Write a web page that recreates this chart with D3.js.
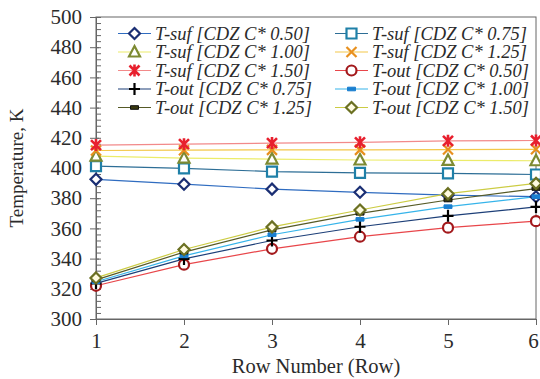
<!DOCTYPE html>
<html>
<head>
<meta charset="utf-8">
<script src="https://cdn.jsdelivr.net/npm/d3@7"></script>
<style>
  body { margin: 0; background: #fff; }
  svg { display: block; }
  text { font-family: "Liberation Serif", "Times New Roman", serif; fill: #2b2b2b; }
</style>
</head>
<body>
<div id="chartPlaceholder"></div>
<script>
const rows = [1, 2, 3, 4, 5, 6];
const yTicks = [300, 320, 340, 360, 380, 400, 420, 440, 460, 480, 500];

const tSuf050 = [392.5, 389.3, 386.0, 383.9, 382.0, 381.0];
const tSuf075 = [401.3, 399.8, 397.6, 396.8, 396.4, 395.7];
const tSuf100 = [407.8, 406.6, 405.9, 405.3, 405.0, 404.8];
const tSuf125 = [411.6, 411.8, 412.0, 412.0, 412.2, 412.4];
const tSuf150 = [415.2, 415.8, 416.5, 417.0, 418.0, 418.2];
const tOut050 = [322.0, 336.0, 346.5, 354.5, 360.5, 364.8];
const tOut075 = [323.6, 339.8, 352.0, 361.1, 368.3, 374.2];
const tOut100 = [324.7, 341.8, 355.8, 366.0, 374.4, 381.0];
const tOut125 = [325.9, 344.3, 359.0, 370.0, 378.8, 386.4];
const tOut150 = [327.2, 346.0, 361.0, 372.2, 383.0, 389.8];

const series = [
  { name: "T-suf [CDZ C* 0.50]", values: tSuf050, line: "#2f6cc0", marker: "diamond", stroke: "#1b2f74", fill: "#fff" },
  { name: "T-suf [CDZ C* 0.75]", values: tSuf075, line: "#2d6e96", marker: "square", stroke: "#1f80a8", fill: "#fff" },
  { name: "T-suf [CDZ C* 1.00]", values: tSuf100, line: "#ecec6a", marker: "triangle", stroke: "#7d8a32", fill: "#fff" },
  { name: "T-suf [CDZ C* 1.25]", values: tSuf125, line: "#f3c84a", marker: "x", stroke: "#e8901e", fill: "none" },
  { name: "T-suf [CDZ C* 1.50]", values: tSuf150, line: "#f28a8a", marker: "star", stroke: "#e8202e", fill: "none" },
  { name: "T-out [CDZ C* 0.50]", values: tOut050, line: "#e8464a", marker: "circle", stroke: "#a3191c", fill: "#fff" },
  { name: "T-out [CDZ C* 0.75]", values: tOut075, line: "#1d3f78", marker: "plus", stroke: "#000", fill: "none" },
  { name: "T-out [CDZ C* 1.00]", values: tOut100, line: "#36b4ea", marker: "dash", stroke: "#1a7fd0", fill: "#1a7fd0" },
  { name: "T-out [CDZ C* 1.25]", values: tOut125, line: "#565a26", marker: "dash", stroke: "#111", fill: "#3a3a10" },
  { name: "T-out [CDZ C* 1.50]", values: tOut150, line: "#cccc44", marker: "diamond", stroke: "#6b7022", fill: "#fffbe0" },
];

const margin = { top: 17, right: 4, bottom: 60, left: 96 },
  width = 540 - margin.left - margin.right,
  height = 379 - margin.top - margin.bottom;

const svg = d3
  .select("#chartPlaceholder")
  .append("svg")
  .attr("width", 540)
  .attr("height", 379);

const g = svg.append("g").attr("transform", `translate(${margin.left}, ${margin.top})`);

const x = d3.scaleLinear().domain([1, 6]).range([0, width]);
const y = d3.scaleLinear().domain([300, 500]).range([height, 0]);

// frame
g.append("rect")
  .attr("width", width)
  .attr("height", height)
  .attr("fill", "none")
  .attr("stroke", "#666")
  .attr("stroke-width", 1);

// minor y ticks (inside)
g.append("g")
  .call(d3.axisRight(y).tickValues(d3.range(300, 501, 4)).tickSize(5).tickFormat(""))
  .call((a) => a.select(".domain").remove())
  .selectAll("line")
  .attr("stroke", "#666");

// major y ticks + labels
const yAxis = g
  .append("g")
  .call(d3.axisLeft(y).tickValues(yTicks).tickSize(6).tickPadding(8));
yAxis.select(".domain").attr("stroke", "#666");
yAxis.selectAll("line").attr("stroke", "#666").attr("x2", -6).attr("x1", 3);
yAxis.selectAll("text").style("font-size", "21px").attr("fill", "#2b2b2b");

// x axis
const xAxis = g
  .append("g")
  .attr("transform", `translate(0, ${height})`)
  .call(d3.axisBottom(x).tickValues(rows).tickFormat(d3.format("d")).tickSize(6).tickPadding(8));
xAxis.select(".domain").attr("stroke", "#666");
xAxis.selectAll("line").attr("stroke", "#666");
xAxis.selectAll("text").style("font-size", "21px").attr("fill", "#2b2b2b");
// last label sits at the very edge; nudge it in so it stays whole
xAxis.selectAll("text").filter((d) => d === 6).attr("dx", -3);

// axis titles
svg
  .append("text")
  .attr("x", margin.left + width / 2)
  .attr("y", 373)
  .attr("text-anchor", "middle")
  .style("font-size", "20.5px")
  .text("Row Number (Row)");

svg
  .append("text")
  .attr("transform", `translate(23, ${margin.top + height / 2}) rotate(-90)`)
  .attr("text-anchor", "middle")
  .style("font-size", "19px")
  .text("Temperature, K");

function markerPath(type) {
  const p = d3.path();
  if (type === "diamond") {
    p.moveTo(0, -5.5); p.lineTo(5.5, 0); p.lineTo(0, 5.5); p.lineTo(-5.5, 0); p.closePath();
  } else if (type === "square") {
    p.rect(-5, -5, 10, 10);
  } else if (type === "triangle") {
    p.moveTo(0, -6); p.lineTo(5.5, 4.5); p.lineTo(-5.5, 4.5); p.closePath();
  } else if (type === "x") {
    p.moveTo(-5, -5); p.lineTo(5, 5); p.moveTo(5, -5); p.lineTo(-5, 5);
  } else if (type === "star") {
    p.moveTo(-5, -5); p.lineTo(5, 5); p.moveTo(5, -5); p.lineTo(-5, 5);
    p.moveTo(0, -6); p.lineTo(0, 6);
  } else if (type === "circle") {
    p.arc(0, 0, 5, 0, 2 * Math.PI);
  } else if (type === "plus") {
    p.moveTo(-5.5, 0); p.lineTo(5.5, 0); p.moveTo(0, -6); p.lineTo(0, 6);
  } else if (type === "dash") {
    p.rect(-4, -1.8, 8, 3.6);
  }
  return p.toString();
}

function drawMarker(sel, s) {
  sel
    .append("path")
    .attr("d", markerPath(s.marker))
    .attr("fill", s.fill)
    .attr("stroke", s.stroke)
    .attr("stroke-width", s.marker === "dash" ? 1 : s.marker === "star" ? 2.6 : 2.2);
}

const line = d3
  .line()
  .x((d, i) => x(rows[i]))
  .y((d) => y(d));

// lines
series.forEach((s) => {
  g.append("path")
    .attr("d", line(s.values))
    .attr("fill", "none")
    .attr("stroke", s.line)
    .attr("stroke-width", 1.2);
});

// markers
series.forEach((s) => {
  s.values.forEach((v, i) => {
    const m = g.append("g").attr("transform", `translate(${x(rows[i])}, ${y(v)})`);
    drawMarker(m, s);
  });
});

// legend
const legend = svg.append("g");
series.forEach((s, i) => {
  const col = i % 2;
  const row = Math.floor(i / 2);
  const lx = col === 0 ? 118 : 335;
  const ly = 33.5 + row * 18.5;
  const item = legend.append("g").attr("transform", `translate(${lx}, ${ly})`);
  item.append("line").attr("x1", 0).attr("x2", 33).attr("stroke", s.line).attr("stroke-width", 1.2);
  drawMarker(item.append("g").attr("transform", "translate(16.5, 0)"), s);
  item
    .append("text")
    .attr("x", 37)
    .attr("y", 6)
    .style("font-size", "18.5px")
    .style("font-style", "italic")
    .text(s.name);
});
</script>
</body>
</html>
